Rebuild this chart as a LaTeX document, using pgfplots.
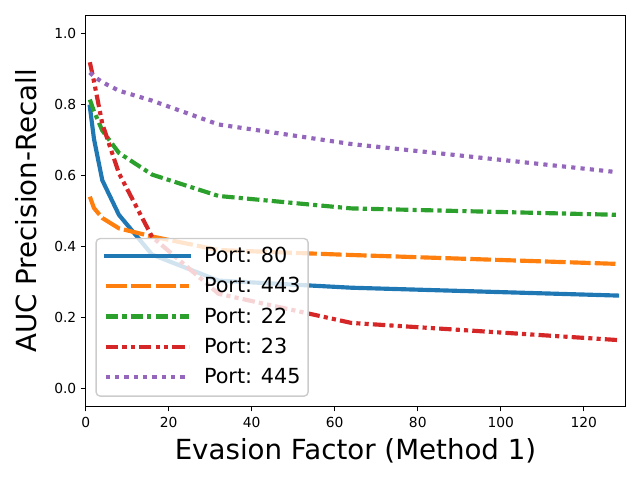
\documentclass[border=0pt]{standalone}
\usepackage{fontspec}
\setmainfont{DejaVu Sans}
\usepackage{pgfplots}
\pgfplotsset{compat=1.18}
\definecolor{c0}{HTML}{1F77B4}
\definecolor{c1}{HTML}{FF7F0E}
\definecolor{c2}{HTML}{2CA02C}
\definecolor{c3}{HTML}{D62728}
\definecolor{c4}{HTML}{9467BD}
\begin{document}
\begin{tikzpicture}
\path[use as bounding box] (0,0) rectangle (6.4in,4.8in);
\begin{axis}[
  at={(0.857in,0.735in)}, anchor=south west,
  scale only axis, width=5.396in, height=3.912in,
  xmin=0, xmax=130, ymin=-0.05, ymax=1.05,
  xtick={0,20,40,60,80,100,120},
  ytick={0,0.2,0.4,0.6,0.8,1.0},
  /pgf/number format/assume math mode=true,
  tick label style={font=\fontsize{10}{12}\selectfont, inner sep=0pt},
  xticklabel style={anchor=north, yshift=-3.9pt},
  yticklabel style={anchor=east, xshift=-3.1pt, /pgf/number format/fixed, /pgf/number format/fixed zerofill, /pgf/number format/precision=1},
  tick pos=left, tick align=outside, major tick length=3.5pt,
  every tick/.style={black, line width=0.8pt},
  axis line style={line width=0.8pt},
  xlabel={Evasion Factor (Method 1)},
  ylabel={AUC Precision-Recall},
  xlabel style={at={(axis description cs:0.5,-0.135)}, anchor=base, font=\fontsize{20}{24}\selectfont, inner sep=0pt},
  ylabel style={at={(axis description cs:-0.0908,0.5)}, anchor=base, font=\fontsize{20}{24}\selectfont, inner sep=0pt},
  legend image code/.code={\draw[#1] (0pt,4.8pt) -- (60pt,4.8pt);},
  legend cell align=left,
  legend style={at={(0,0)}, anchor=south west, xshift=7.5pt, yshift=7.5pt,
    font=\fontsize{15}{18}\selectfont,
    draw=black!20, line width=1pt, fill=white, fill opacity=0.8, draw opacity=1, text opacity=1,
    rounded corners=3pt, inner xsep=5.5pt, inner ysep=6.5pt, outer sep=0pt,
    row sep=8.6pt,
    cells={anchor=base west},
    nodes={inner sep=0pt, text height=10.9pt, text depth=2.4pt},
    /tikz/every odd column/.append style={column sep=9.5pt}},
]
\addplot[c0, line width=3pt, line cap=rect, line join=round] coordinates {
(1,0.793) (2,0.702) (4,0.586) (8,0.489) (16,0.377) (32,0.304) (64,0.284) (128,0.262)};
\addlegendentry{Port: 80}
\addplot[c1, line width=3pt, line join=round, dash pattern=on 15pt off 3pt] coordinates {
(1,0.540) (2,0.508) (4,0.480) (8,0.451) (16,0.428) (32,0.390) (64,0.376) (128,0.351)};
\addlegendentry{Port: 443}
\addplot[c2, line width=3pt, line join=round, dash pattern=on 9pt off 3pt on 3pt off 3pt] coordinates {
(1,0.813) (2,0.780) (4,0.726) (8,0.663) (16,0.602) (32,0.542) (64,0.507) (128,0.489)};
\addlegendentry{Port: 22}
\addplot[c3, line width=3pt, line join=round, dash pattern=on 9pt off 3pt on 3pt off 3pt on 3pt off 3pt] coordinates {
(1,0.918) (2,0.864) (4,0.745) (8,0.606) (16,0.427) (32,0.267) (64,0.185) (128,0.137)};
\addlegendentry{Port: 23}
\addplot[c4, line width=3pt, line join=round, dash pattern=on 3pt off 3.75pt] coordinates {
(1,0.889) (2,0.878) (4,0.862) (8,0.838) (16,0.810) (32,0.743) (64,0.688) (128,0.609)};
\addlegendentry{Port: 445}
\end{axis}
\end{tikzpicture}
\end{document}
